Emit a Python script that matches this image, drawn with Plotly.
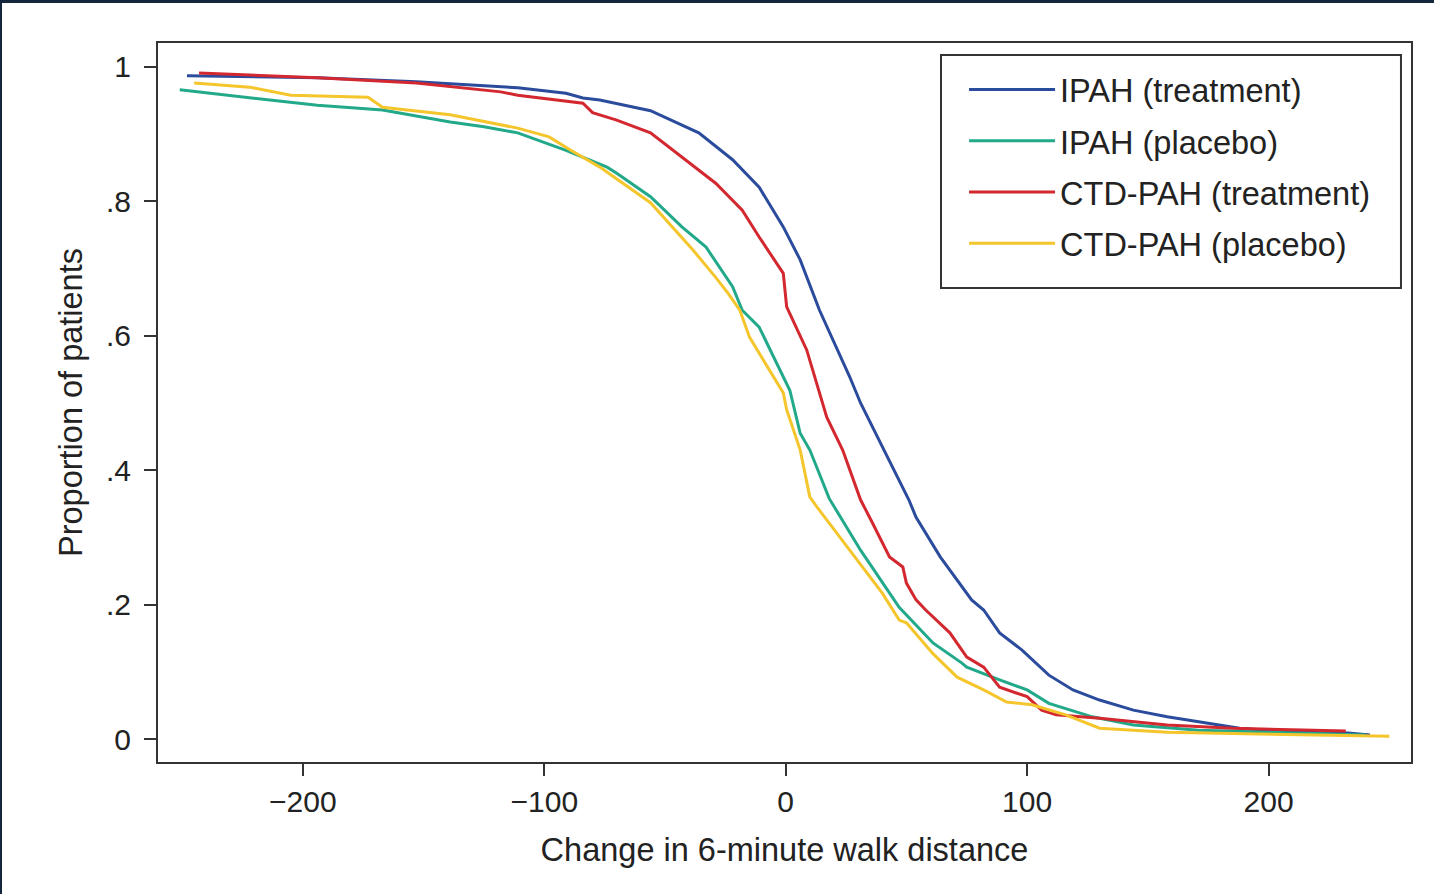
import plotly.graph_objects as go

# ---- data ----
ipah_trt_x = [-248, -194, -153, -118, -111, -91, -84, -77, -56, -36, -22, -11, -1, 6, 14, 26.5, 31, 40, 51, 54, 64, 77, 82, 88.6, 98, 109, 119, 130, 144, 158, 178, 188, 199, 233, 242]
ipah_trt_y = [0.987, 0.984, 0.978, 0.970, 0.969, 0.961, 0.954, 0.951, 0.935, 0.902, 0.862, 0.821, 0.762, 0.713, 0.638, 0.539, 0.500, 0.435, 0.356, 0.330, 0.271, 0.207, 0.192, 0.158, 0.132, 0.095, 0.073, 0.058, 0.043, 0.033, 0.021, 0.016, 0.013, 0.009, 0.006]

ipah_pbo_x = [-251, -222, -194, -167, -139, -125, -111, -91, -74, -70, -56, -43, -33, -22, -18, -11, 1.7, 6, 10, 18, 31, 47, 61, 73, 75, 88.6, 100, 109, 127, 144, 171, 240]
ipah_pbo_y = [0.966, 0.954, 0.943, 0.936, 0.918, 0.911, 0.902, 0.876, 0.851, 0.842, 0.807, 0.762, 0.732, 0.673, 0.638, 0.613, 0.519, 0.455, 0.430, 0.358, 0.281, 0.196, 0.143, 0.113, 0.107, 0.088, 0.073, 0.053, 0.033, 0.021, 0.013, 0.006]

ctd_trt_x = [-243, -194, -153, -118, -111, -84, -80, -70, -56, -43, -29, -18, -11, -1, 0.4, 8.7, 17, 23.6, 31, 36, 43, 48.5, 50, 54, 58, 68, 75, 82, 88.6, 100, 106, 112, 130, 158, 185, 232]
ctd_trt_y = [0.991, 0.984, 0.976, 0.963, 0.958, 0.946, 0.932, 0.921, 0.902, 0.866, 0.827, 0.787, 0.747, 0.693, 0.643, 0.579, 0.479, 0.430, 0.356, 0.321, 0.271, 0.256, 0.232, 0.207, 0.192, 0.158, 0.122, 0.107, 0.077, 0.063, 0.043, 0.036, 0.031, 0.021, 0.016, 0.012]

ctd_pbo_x = [-245, -222, -205, -173, -167, -139, -111, -98, -89, -77, -56, -38.5, -29, -24, -19, -15, -1, 0.4, 6, 10, 13, 26.5, 40, 47, 50, 61, 71, 82, 91.5, 102, 116, 130, 158, 250]
ctd_pbo_y = [0.976, 0.970, 0.958, 0.955, 0.940, 0.929, 0.909, 0.896, 0.876, 0.851, 0.798, 0.728, 0.687, 0.664, 0.638, 0.598, 0.515, 0.490, 0.430, 0.360, 0.345, 0.281, 0.217, 0.177, 0.173, 0.127, 0.092, 0.073, 0.055, 0.051, 0.036, 0.016, 0.010, 0.004]

series_names = ["IPAH (treatment)", "IPAH (placebo)", "CTD-PAH (treatment)", "CTD-PAH (placebo)"]
series_colors = ["#2b4c9c", "#22a98a", "#d3282f", "#f5c52c"]

x_ticks = [-200, -100, 0, 100, 200]
x_tick_text = ["\u2212200", "\u2212100", "0", "100", "200"]
y_ticks = [0, 0.2, 0.4, 0.6, 0.8, 1]
y_tick_text = ["0", ".2", ".4", ".6", ".8", "1"]

FONT = "Liberation Sans, Arial, sans-serif"
TXT = "#222222"

fig = go.Figure()
data = [(ipah_trt_x, ipah_trt_y), (ipah_pbo_x, ipah_pbo_y), (ctd_trt_x, ctd_trt_y), (ctd_pbo_x, ctd_pbo_y)]
for i, ((xs, ys), name, col) in enumerate(zip(data, series_names, series_colors)):
    fig.add_trace(go.Scatter(x=xs, y=ys, mode="lines", name=name, legendgroup=f"g{i}",
                             line=dict(color=col, width=3)))

fig.update_layout(
    width=1434, height=894,
    margin=dict(l=158, r=23, t=43, b=132),
    paper_bgcolor="white", plot_bgcolor="white",
    font=dict(family=FONT, color=TXT, size=30),
    showlegend=True,
    legend=dict(x=0.6433, xanchor="left", y=0.9736, yanchor="top",
                borderwidth=0, bgcolor="rgba(0,0,0,0)",
                font=dict(size=32.5, family=FONT, color=TXT),
                tracegroupgap=6, itemwidth=86, traceorder="grouped"),
    xaxis=dict(range=[-260, 259], tickvals=x_ticks, ticktext=x_tick_text,
               ticks="outside", ticklen=12, tickwidth=2, tickcolor="#333",
               showgrid=False, zeroline=False, showline=True, linecolor="#333",
               linewidth=2, mirror=True,
               tickfont=dict(size=30, family=FONT, color=TXT),
               title=dict(text="Change in 6-minute walk distance", standoff=21,
                          font=dict(size=32.5, family=FONT, color=TXT))),
    yaxis=dict(range=[-0.0342, 1.0357], tickvals=y_ticks, ticktext=y_tick_text,
               ticks="outside", ticklen=12, tickwidth=2, tickcolor="#333",
               showgrid=False, zeroline=False, showline=True, linecolor="#333",
               linewidth=2, mirror=True, ticklabelstandoff=7,
               tickfont=dict(size=30, family=FONT, color=TXT),
               title=dict(text="Proportion of patients", standoff=14,
                          font=dict(size=32.5, family=FONT, color=TXT))),
    shapes=[
        # legend frame
        dict(type="rect", xref="paper", yref="paper", x0=0.6249, x1=0.9920,
             y0=0.6593, y1=0.9833, fillcolor="rgba(0,0,0,0)",
             line=dict(color="#333333", width=2), layer="above"),
        # dark page edges visible in the reference crop
        dict(type="rect", xref="paper", yref="paper", x0=-0.1261, x1=1.02,
             y0=1.0556, y1=1.062, fillcolor="#13263b", line=dict(width=0), layer="above"),
        dict(type="rect", xref="paper", yref="paper", x0=-0.1261, x1=-0.1245,
             y0=-0.2, y1=1.062, fillcolor="#13263b", line=dict(width=0), layer="above"),
    ],
)

fig.write_html("out.html")
